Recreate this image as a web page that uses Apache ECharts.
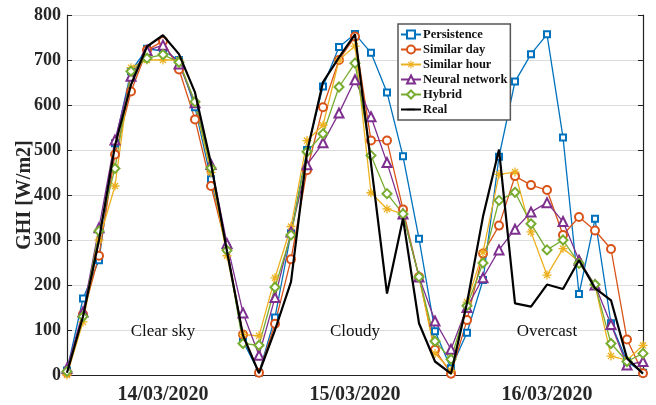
<!DOCTYPE html>
<html>
<head>
<meta charset="utf-8">
<script src="https://cdn.jsdelivr.net/npm/echarts@6/dist/echarts.min.js"></script>
<style>
  html, body { margin: 0; padding: 0; background: #fff; }
  #chart { width: 656px; height: 405px; }
</style>
</head>
<body>
<div id="chart"></div>
<script>
// 37 samples, 12 per day, 3 days
const hours = []
for (let i = 0; i <= 36; i++) hours.push(String(i))
const dayLabels = ['14/03/2020', '15/03/2020', '16/03/2020']
const skyLabels = ['Clear sky', 'Cloudy', 'Overcast']

const persistence = [10, 170, 255, 515, 675, 725, 720, 700, 595, 435, 282, 75, 5,
  128, 315, 500, 641, 729, 758, 716, 628, 486, 303, 97, 15,
  94, 211, 485, 652, 713, 757, 528, 180, 347, 115, 30, 5]
const similarDay = [5, 135, 265, 490, 630, 722, 742, 679, 568, 420, 280, 90, 5,
  114, 257, 455, 595, 700, 752, 521, 521, 368, 218, 56, 3,
  122, 270, 332, 442, 422, 411, 311, 351, 321, 280, 79, 4]
const similarHour = [0, 118, 300, 420, 683, 700, 700, 700, 602, 450, 265, 90, 87,
  216, 330, 521, 555, 700, 731, 405, 369, 358, 218, 48, 10,
  162, 273, 446, 451, 318, 222, 281, 252, 200, 42, 33, 66]
const neuralNet = [15, 140, 327, 522, 664, 721, 733, 691, 605, 468, 292, 138, 44,
  172, 318, 467, 516, 582, 656, 574, 472, 358, 218, 120, 57,
  150, 216, 278, 324, 362, 383, 341, 255, 200, 112, 22, 30]
const hybrid = [8, 130, 320, 459, 675, 704, 712, 695, 607, 460, 277, 70, 66,
  195, 311, 496, 536, 640, 693, 488, 403, 358, 218, 75, 35,
  154, 249, 388, 406, 336, 278, 300, 248, 201, 70, 30, 48]
const real = [5, 130, 300, 510, 645, 730, 755, 713, 628, 470, 275, 88, 4,
  100, 207, 495, 651, 706, 757, 470, 181, 348, 115, 30, 3,
  160, 352, 501, 159, 152, 201, 191, 255, 193, 166, 37, 3]

// matlab style '*' marker, drawn as filled thin bars
const starPath = 'path://M4.3,0 L5.7,0 L5.7,10 L4.3,10 Z M0,4.3 L10,4.3 L10,5.7 L0,5.7 Z ' +
  'M1.1,2.1 L2.1,1.1 L8.9,7.9 L7.9,8.9 Z M7.9,1.1 L8.9,2.1 L2.1,8.9 L1.1,7.9 Z'
// only used by the legend for "Real": a plain bar over the line, tiny corners keep the box square
const barPath = 'path://M0,0 L0.01,0 L0.01,0.01 Z M0,4.2 L10,4.2 L10,5.8 L0,5.8 Z M9.99,9.99 L10,9.99 L10,10 Z'

const serif = '"Liberation Serif", "Times New Roman", serif'

function lineSeries(name, data, color, symbol, size, bw) {
  return {
    name: name,
    type: 'line',
    data: data,
    symbol: symbol,
    symbolSize: size,
    showSymbol: true,
    color: color,
    lineStyle: { color: color, width: 1.3 },
    itemStyle: { color: color, borderColor: color, borderWidth: bw },
    emphasis: { disabled: true },
  }
}

const chart = echarts.init(document.getElementById('chart'))
const option = {
  animation: false,
  grid: { left: 67, right: 13, top: 15, bottom: 30, outerBoundsMode: 'none' },
  legend: {
    orient: 'vertical',
    left: 398,
    top: 24,
    padding: [3, 3, 3, 2],
    itemGap: 0,
    itemWidth: 20,
    itemHeight: 10,
    borderColor: '#555',
    borderWidth: 1.5,
    backgroundColor: '#fff',
    textStyle: {
      fontFamily: serif,
      fontWeight: 'bold',
      fontSize: 12.5,
      lineHeight: 15,
      color: '#111',
      padding: [0, 0, 0, -3],
    },
    data: ['Persistence', 'Similar day', 'Similar hour', 'Neural network', 'Hybrid', 'Real'],
  },
  xAxis: [
    {
      type: 'category',
      data: hours,
      boundaryGap: false,
      axisLine: { lineStyle: { color: '#222', width: 1.2 } },
      axisTick: { show: false },
      axisLabel: {
        interval: (idx) => idx % 12 === 6,
        formatter: (v, idx) => dayLabels[Math.floor(idx / 12)],
        fontFamily: serif,
        fontWeight: 'bold',
        fontSize: 20,
        color: '#262626',
        margin: 10,
      },
      splitLine: { show: false },
    },
    {
      type: 'category',
      data: hours,
      position: 'top',
      boundaryGap: false,
      axisLine: { show: true, lineStyle: { color: '#222', width: 1.2 } },
      axisTick: { show: false },
      axisLabel: { show: false },
    },
  ],
  yAxis: [
    {
      type: 'value',
      min: 0,
      max: 800,
      interval: 100,
      name: 'GHI [W/m2]',
      nameLocation: 'middle',
      nameGap: 32,
      nameMoveOverlap: false,
      nameTextStyle: {
        fontFamily: serif,
        fontWeight: 'bold',
        fontSize: 20,
        color: '#262626',
      },
      axisLine: { show: true, lineStyle: { color: '#222', width: 1.2 } },
      axisTick: { show: true, inside: true, length: 5, lineStyle: { color: '#222' } },
      axisLabel: {
        fontFamily: serif,
        fontWeight: 'bold',
        fontSize: 18,
        color: '#262626',
        margin: 6,
      },
      splitLine: { show: true, lineStyle: { color: '#dcdcdc', width: 1 } },
    },
    {
      type: 'value',
      min: 0,
      max: 800,
      interval: 100,
      position: 'right',
      axisLine: { show: true, lineStyle: { color: '#222', width: 1.2 } },
      axisTick: { show: true, inside: true, length: 5, lineStyle: { color: '#222' } },
      axisLabel: { show: false },
      splitLine: { show: false },
    },
  ],
  series: [
    lineSeries('Persistence', persistence, '#0072BD', 'emptyRect', 6, 1.2),
    lineSeries('Similar day', similarDay, '#D95319', 'emptyCircle', 8, 1.2),
    lineSeries('Similar hour', similarHour, '#EDB120', starPath, 9, 0),
    lineSeries('Neural network', neuralNet, '#7E2F8E', 'emptyTriangle', 9, 1.2),
    lineSeries('Hybrid', hybrid, '#77AC30', 'emptyDiamond', 9, 1.2),
    {
      name: 'Real',
      type: 'line',
      data: real,
      symbol: barPath,
      showSymbol: false,
      color: '#000',
      lineStyle: { color: '#000', width: 2.2 },
      itemStyle: { color: '#000', borderWidth: 0 },
      emphasis: { disabled: true },
      z: 5,
    },
  ],
}
chart.setOption(option)

// sky condition captions, placed at the middle of each day, around 100 W/m2
const captions = skyLabels.map((text, d) => {
  const p = chart.convertToPixel({ xAxisIndex: 0, yAxisIndex: 0 }, [String(d * 12 + 6), 100])
  return {
    type: 'text',
    x: p[0],
    y: p[1] + 2,
    style: {
      text: text,
      font: '17px ' + serif,
      fill: '#111',
      align: 'center',
      verticalAlign: 'middle',
    },
  }
})
chart.setOption({ graphic: captions })
</script>
</body>
</html>
